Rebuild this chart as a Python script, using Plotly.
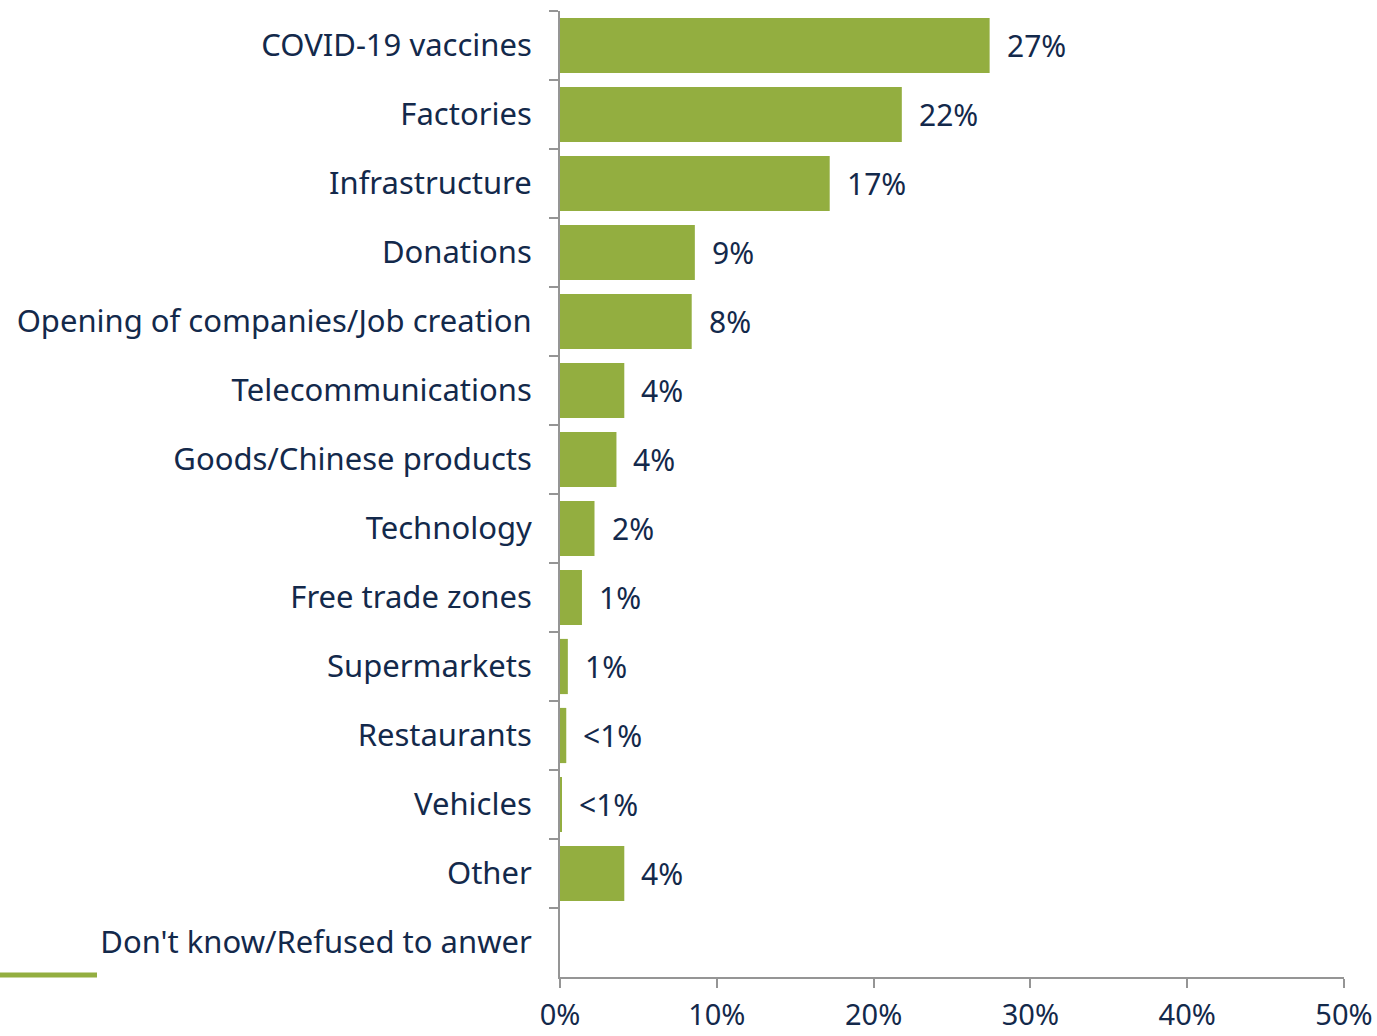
import plotly.graph_objects as go

# Survey responses: what people associate with China's presence
categories = [
    "COVID-19 vaccines",
    "Factories",
    "Infrastructure",
    "Donations",
    "Opening of companies/Job creation",
    "Telecommunications",
    "Goods/Chinese products",
    "Technology",
    "Free trade zones",
    "Supermarkets",
    "Restaurants",
    "Vehicles",
    "Other",
    "Don't know/Refused to anwer",
]
shares = [27.4, 21.8, 17.2, 8.6, 8.4, 4.1, 3.6, 2.2, 1.4, 0.5, 0.4, 0.1, 4.1, 0.0]
value_labels = ["27%", "22%", "17%", "9%", "8%", "4%", "4%", "2%", "1%", "1%",
                "<1%", "<1%", "4%", ""]
tick_values = [0, 10, 20, 30, 40, 50]
tick_labels = ["0%", "10%", "20%", "30%", "40%", "50%"]

GREEN = "#93AE40"
NAVY = "#13294B"
AXIS_GREY = "#959595"
FONT = "'Noto Sans', 'Open Sans', sans-serif"

fig = go.Figure(
    go.Bar(
        y=categories,
        x=shares,
        orientation="h",
        marker=dict(color=GREEN, line=dict(width=0)),
        hoverinfo="skip",
    )
)

# value labels placed just past the end of each bar
for cat, val, lab in zip(categories, shares, value_labels):
    if not lab:
        continue
    fig.add_annotation(
        x=val, y=cat, text=lab, showarrow=False,
        xanchor="left", xshift=15,
        font=dict(family=FONT, size=30, color=NAVY),
    )

# short green rule at the lower left
fig.add_shape(
    type="line", xref="paper", yref="paper",
    x0=-560 / 784, x1=(97 - 560) / 784, y0=0.002, y1=0.002,
    line=dict(color=GREEN, width=5),
)

fig.update_layout(
    width=1377, height=1036,
    margin=dict(l=560, r=33, t=11, b=59, autoexpand=False),
    paper_bgcolor="white", plot_bgcolor="white",
    bargap=0.2,
    showlegend=False,
    font=dict(family=FONT, color=NAVY),
    xaxis=dict(
        range=[0, 50],
        automargin=False,
        tickvals=tick_values, ticktext=tick_labels,
        showgrid=False, zeroline=False,
        showline=True, linecolor=AXIS_GREY, linewidth=2,
        ticks="outside", ticklen=9, tickcolor=AXIS_GREY, tickwidth=2,
        ticklabelstandoff=2,
        tickfont=dict(family=FONT, size=29, color=NAVY),
    ),
    yaxis=dict(
        autorange="reversed",
        automargin=False,
        showgrid=False, zeroline=False,
        showline=True, linecolor=AXIS_GREY, linewidth=2,
        ticks="outside", ticklen=9, tickcolor=AXIS_GREY, tickwidth=2,
        tickson="boundaries",
        ticklabelstandoff=20,
        tickfont=dict(family=FONT, size=31, color=NAVY),
    ),
)

fig.write_html("out.html")
